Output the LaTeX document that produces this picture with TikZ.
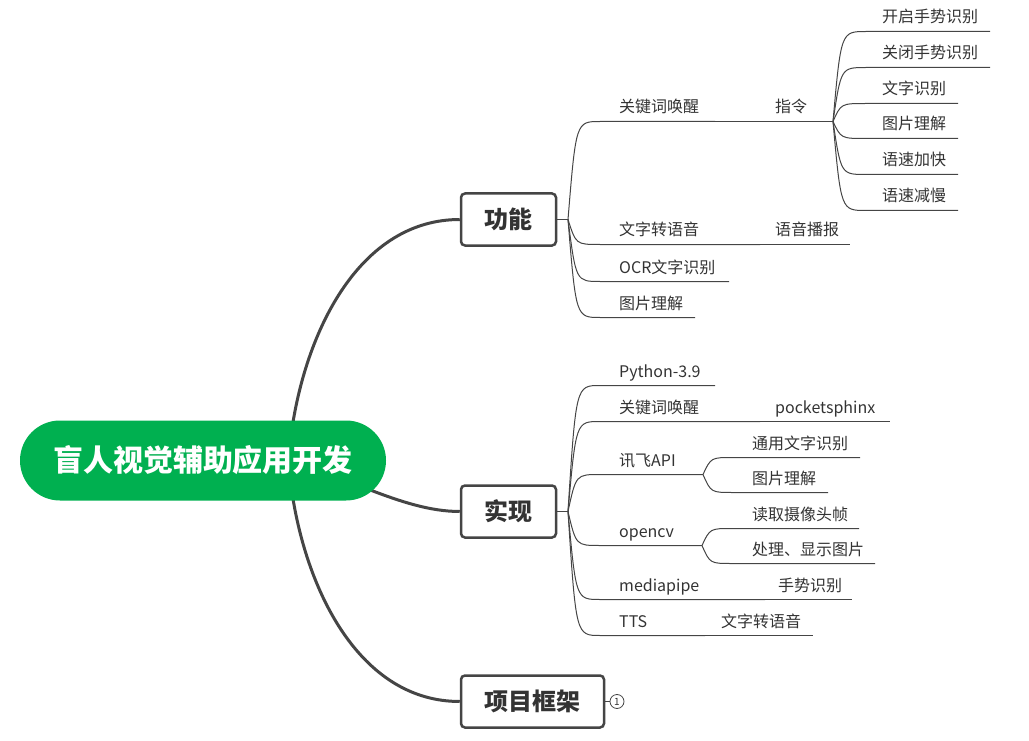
\documentclass[tikz,border=0pt]{standalone}
\usepackage{fontspec}
\setmainfont{Noto Sans CJK SC}
\usetikzlibrary{calc,backgrounds}
\definecolor{rootgreen}{HTML}{00B050}
\definecolor{linec}{HTML}{454545}
\definecolor{txt}{HTML}{333333}
\tikzset{
 rootbox/.style={fill=rootgreen, rounded corners=40, minimum width=366, minimum height=80, text=white, font=\fontsize{30}{34}\selectfont\bfseries, inner sep=0},
 mainbox/.style={draw=linec, line width=2.5, fill=white, rounded corners=4, minimum height=52, text=txt, font=\fontsize{24}{28}\selectfont\bfseries, inner sep=0},
 lbl/.style={anchor=base west, inner sep=0, text=txt, font=\fontsize{16}{19}\selectfont},
 rootconn/.style={draw=linec, line width=3},
 conn/.style={draw=linec, line width=1},
 circ/.style={draw=linec, circle, line width=0.8, minimum size=14, inner sep=0, text=txt, font=\fontsize{10}{11}\selectfont},
}
\newcommand\twig[3]{\draw[conn] (#1) .. controls ($(#2 -| #1)+(8,0)$) .. (#2) -- (#3);}
\begin{document}
\begin{tikzpicture}[x=1pt,y=-1pt]
\useasboundingbox (0,0) rectangle (1029,741);
\begin{scope}[yshift=-0.5pt]
% main nodes
\node[rootbox] (root) at (203,460) {盲人视觉辅助应用开发};
\node[mainbox, minimum width=95] (gn) at (508.5,219) {功能};
\node[mainbox, minimum width=95] (sx) at (508.5,511) {实现};
\node[mainbox, minimum width=143] (xm) at (532.5,701) {项目框架};
\node[circ] (c1) at (617,701) {1};
\coordinate (rt) at (291,435);
\coordinate (rm) at (290,465);
\coordinate (rb) at (291,485);
% forks
\coordinate (gf) at (568,219);
\coordinate (sf) at (568,511);
\coordinate (zf) at (833,121);
\coordinate (xf) at (703,474);
\coordinate (of) at (702,545);
% ---- 功能 children
\node[lbl] (a1) at (619,112.5) {关键词唤醒};
\coordinate (a1s) at (600,121); \coordinate (a1e) at (715,121);
\node[lbl] (a2) at (619,235.5) {文字转语音};
\coordinate (a2s) at (600,244); \coordinate (a2e) at (760,244);
\node[lbl] (a3) at (619,272.5) {OCR文字识别};
\coordinate (a3s) at (600,281); \coordinate (a3e) at (729,281);
\node[lbl] (a4) at (619,308.5) {图片理解};
\coordinate (a4s) at (600,317); \coordinate (a4e) at (695,317);
\node[lbl] (zl) at (775,112.5) {指令};
\node[lbl] (bb) at (775,235.5) {语音播报};
\coordinate (bbe) at (850,244);
% ---- 指令 children
\node[lbl] (z1) at (882,22.5) {开启手势识别};
\coordinate (z1s) at (866,31); \coordinate (z1e) at (990,31);
\node[lbl] (z2) at (882,58.5) {关闭手势识别};
\coordinate (z2s) at (866,67); \coordinate (z2e) at (990,67);
\node[lbl] (z3) at (882,94.5) {文字识别};
\coordinate (z3s) at (866,103); \coordinate (z3e) at (958,103);
\node[lbl] (z4) at (882,129.5) {图片理解};
\coordinate (z4s) at (866,138); \coordinate (z4e) at (958,138);
\node[lbl] (z5) at (882,165.5) {语速加快};
\coordinate (z5s) at (866,174); \coordinate (z5e) at (958,174);
\node[lbl] (z6) at (882,201.5) {语速减慢};
\coordinate (z6s) at (866,210); \coordinate (z6e) at (958,210);
% ---- 实现 children
\node[lbl] (b1) at (619,376.5) {Python-3.9};
\coordinate (b1s) at (600,385); \coordinate (b1e) at (715,385);
\node[lbl] (b2) at (619,412.5) {关键词唤醒};
\coordinate (b2s) at (600,421); \coordinate (b2e) at (760,421);
\node[lbl] (ps) at (775,412.5) {pocketsphinx};
\coordinate (pse) at (890,421);
\node[lbl] (b3) at (619,465.5) {讯飞API};
\coordinate (b3s) at (600,474);
\node[lbl] (x1) at (752,448.5) {通用文字识别};
\coordinate (x1s) at (733,457); \coordinate (x1e) at (860,457);
\node[lbl] (x2) at (752,483.5) {图片理解};
\coordinate (x2s) at (733,492); \coordinate (x2e) at (828,492);
\node[lbl] (b4) at (619,536.5) {opencv};
\coordinate (b4s) at (600,545);
\node[lbl] (o1) at (752,519.5) {读取摄像头帧};
\coordinate (o1s) at (732,528); \coordinate (o1e) at (859,528);
\node[lbl] (o2) at (752,554.5) {处理、显示图片};
\coordinate (o2s) at (732,563); \coordinate (o2e) at (875,563);
\node[lbl] (b5) at (619,590.5) {mediapipe};
\coordinate (b5s) at (600,599); \coordinate (b5e) at (765,599);
\node[lbl] (ss) at (778,590.5) {手势识别};
\coordinate (sse) at (852,599);
\node[lbl] (b6) at (619,626.5) {TTS};
\coordinate (b6s) at (600,635); \coordinate (b6e) at (705,635);
\node[lbl] (tt) at (721,626.5) {文字转语音};
\coordinate (tte) at (813,635);
\begin{scope}[on background layer]
\draw[rootconn] (rt) .. controls (305,330) and (360,219) .. (gn.west);
\draw[rootconn] (rm) .. controls (340,470) and (400,511) .. (sx.west);
\draw[rootconn] (rb) .. controls (305,590) and (360,701) .. (xm.west);
\end{scope}
\draw[conn] (xm.east) -- (c1.west);
\draw[conn] (gn.east) -- (gf);
\draw[conn] (sx.east) -- (sf);
\twig{gf}{a1s}{a1e}
\draw[conn] (a1e) -- (zf);
\twig{gf}{a2s}{a2e}
\draw[conn] (a2e) -- (bbe);
\twig{gf}{a3s}{a3e}
\twig{gf}{a4s}{a4e}
\twig{zf}{z1s}{z1e}
\twig{zf}{z2s}{z2e}
\twig{zf}{z3s}{z3e}
\twig{zf}{z4s}{z4e}
\twig{zf}{z5s}{z5e}
\twig{zf}{z6s}{z6e}
\twig{sf}{b1s}{b1e}
\twig{sf}{b2s}{b2e}
\draw[conn] (b2e) -- (pse);
\twig{sf}{b3s}{xf}
\twig{xf}{x1s}{x1e}
\twig{xf}{x2s}{x2e}
\twig{sf}{b4s}{of}
\twig{of}{o1s}{o1e}
\twig{of}{o2s}{o2e}
\twig{sf}{b5s}{b5e}
\draw[conn] (b5e) -- (sse);
\twig{sf}{b6s}{b6e}
\draw[conn] (b6e) -- (tte);
\end{scope}
\end{tikzpicture}
\end{document}
